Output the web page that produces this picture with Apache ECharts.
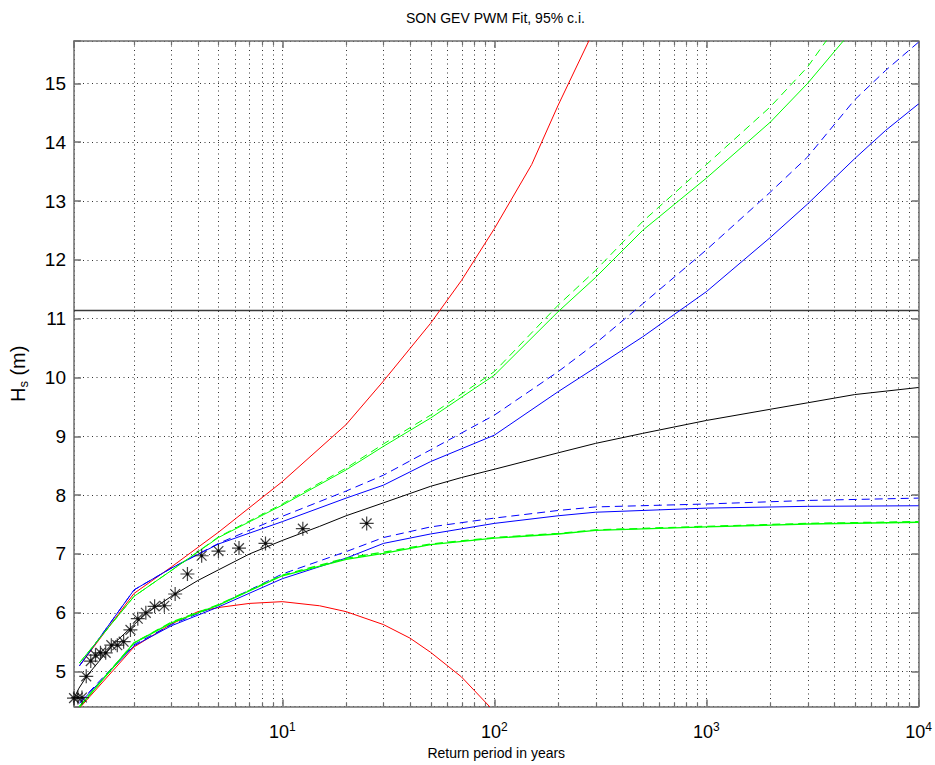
<!DOCTYPE html>
<html><head><meta charset="utf-8">
<script src="https://cdn.jsdelivr.net/npm/echarts@6/dist/echarts.min.js"></script>
<style>html,body{margin:0;padding:0;background:#fff}#c{width:935px;height:765px}</style>
</head><body><div id="c"></div>
<script>
// ---- data ----
const obsT = [1.042, 1.087, 1.136, 1.19, 1.25, 1.316, 1.389, 1.47, 1.5625, 1.667, 1.786, 1.923, 2.083, 2.273, 2.5, 2.778, 3.125, 3.571, 4.167, 5, 6.25, 8.333, 12.5, 25];
const obsHs = [4.55, 4.56, 4.56, 4.92, 5.18, 5.28, 5.32, 5.32, 5.45, 5.45, 5.51, 5.71, 5.90, 6.00, 6.11, 6.12, 6.32, 6.66, 6.97, 7.05, 7.10, 7.18, 7.43, 7.52];

const fitT  = [1.042, 1.1, 1.2, 1.4, 1.6, 2, 2.3, 3, 4, 5, 7, 10, 15, 20, 30, 50, 70, 100, 200, 300, 500, 1000, 2000, 3000, 5000, 10000];
const fitHs = [4.55, 4.72, 4.93, 5.22, 5.47, 5.80, 6.00, 6.28, 6.55, 6.73, 7.00, 7.23, 7.47, 7.65, 7.87, 8.15, 8.30, 8.44, 8.72, 8.88, 9.05, 9.27, 9.46, 9.57, 9.71, 9.83];

const redUpT  = [1.106, 2, 3, 5, 10, 20, 30, 50, 70, 100, 150, 200, 300];
const redUpHs = [5.10, 6.33, 6.78, 7.37, 8.23, 9.20, 9.94, 10.92, 11.65, 12.53, 13.62, 14.63, 15.96];
const redLoT  = [1.106, 2, 3, 4, 5, 7, 10, 15, 20, 30, 40, 50, 70, 100];
const redLoHs = [4.38, 5.42, 5.81, 6.02, 6.09, 6.16, 6.19, 6.12, 6.02, 5.80, 5.57, 5.33, 4.91, 4.32];

const upT = [1.106, 2, 3, 5, 10, 20, 30, 50, 100, 200, 300, 500, 1000, 2000, 3000, 5000, 7000, 10000];
const greenUpHs     = [5.15, 6.28, 6.72, 7.28, 7.83, 8.43, 8.83, 9.31, 10.04, 11.12, 11.70, 12.50, 13.39, 14.34, 15.00, 15.95];
const greenUpDashHs = [5.15, 6.28, 6.72, 7.29, 7.85, 8.46, 8.87, 9.36, 10.10, 11.23, 11.82, 12.65, 13.62, 14.60, 15.28, 16.40];
const blueUpHs      = [5.10, 6.39, 6.76, 7.17, 7.55, 7.95, 8.17, 8.57, 9.02, 9.76, 10.17, 10.69, 11.46, 12.38, 12.95, 13.72, 14.20, 14.65];
const blueUpDashHs  = [5.10, 6.39, 6.76, 7.18, 7.64, 8.07, 8.34, 8.77, 9.36, 10.10, 10.58, 11.25, 12.17, 13.15, 13.75, 14.72, 15.22, 15.70];

const loT = [1.106, 2, 3, 5, 10, 20, 30, 50, 100, 200, 300, 1000, 3000, 10000];
const blueLoHs      = [4.46, 5.44, 5.78, 6.10, 6.58, 6.93, 7.18, 7.34, 7.52, 7.65, 7.71, 7.78, 7.81, 7.82];
const blueLoDashHs  = [4.48, 5.46, 5.80, 6.13, 6.66, 7.04, 7.28, 7.46, 7.61, 7.74, 7.80, 7.85, 7.91, 7.95];
const greenLoHs     = [4.40, 5.49, 5.83, 6.13, 6.63, 6.91, 7.01, 7.16, 7.27, 7.34, 7.40, 7.46, 7.51, 7.54];
const greenLoDashHs = [4.41, 5.49, 5.84, 6.14, 6.64, 6.93, 7.03, 7.17, 7.28, 7.35, 7.41, 7.47, 7.52, 7.55];

const thresholdHs = [11.14];

const minorTicksT = [2,3,4,5,6,7,8,9, 20,30,40,50,60,70,80,90, 200,300,400,500,600,700,800,900, 2000,3000,4000,5000,6000,7000,8000,9000];

const xMin = 1.042, xMax = 10000, yMin = 4.406, yMax = 15.72;

// ---- helpers ----
const pairs = (xs, ys) => ys.map((y, i) => [xs[i], y]);
const gridDash = [1, 3.5];
const FONT = 'Liberation Sans, Arial, sans-serif';
const AXIS_COLOR = '#6e6e6e';

function lineSeries(name, xs, ys, color, dashed, width) {
  return {
    name, type: 'line', data: pairs(xs, ys), showSymbol: false, symbol: 'none',
    lineStyle: { color, width: width || 1, type: dashed ? [8, 5] : 'solid' },
    clip: true, silent: true, z: 5
  };
}

const chart = echarts.init(document.getElementById('c'), null, { renderer: 'svg' });

const starPath = 'path://M0,-10L0,10M-10,0L10,0M-7,-7L7,7M-7,7L7,-7';

const option = {
  animation: false,
  backgroundColor: '#fff',
  textStyle: { fontFamily: FONT, color: '#000' },
  grid: { left: 74, right: 16.5, top: 41, bottom: 58, containLabel: false },
  graphic: [{
    type: 'text', left: 496 - 90, top: 11,
    style: { text: 'SON GEV PWM Fit, 95% c.i.', fontSize: 14, fontFamily: FONT, fill: '#000' }
  }],
  xAxis: [{
    type: 'log', logBase: 10, min: xMin, max: xMax, position: 'bottom',
    name: 'Return period in years', nameLocation: 'middle', nameGap: 31,
    nameTextStyle: { fontSize: 14, fontFamily: FONT, color: '#000' },
    axisLine: { show: true, lineStyle: { color: AXIS_COLOR, width: 1.5 } },
    axisTick: { show: true, inside: true, length: 7, lineStyle: { color: AXIS_COLOR, width: 1.5 } },
    splitLine: { show: true, lineStyle: { color: '#333', width: 1, type: gridDash } },
    axisLabel: {
      margin: 14, color: '#000',
      formatter: v => {
        const l = Math.log10(v), e = Math.round(l);
        if (Math.abs(l - e) > 1e-6 || e < 1) return '';
        return '{b|10}{s|' + e + '}';
      },
      rich: {
        b: { fontSize: 18, fontFamily: FONT, color: '#000' },
        s: { fontSize: 12, fontFamily: FONT, color: '#000', verticalAlign: 'bottom', padding: [0, 0, 11, 0] }
      }
    }
  }, {
    type: 'log', logBase: 10, min: xMin, max: xMax, position: 'top',
    axisLine: { show: true, lineStyle: { color: AXIS_COLOR, width: 1.5 } },
    axisTick: { show: true, inside: true, length: 7, lineStyle: { color: AXIS_COLOR, width: 1.5 } },
    axisLabel: { show: false }, splitLine: { show: false }
  }],
  yAxis: [{
    type: 'value', min: yMin, max: yMax, splitNumber: 11, position: 'left',
    name: '{h|H}{sub|s}{h| (m)}', nameLocation: 'middle', nameGap: 44, nameRotate: 90,
    nameTextStyle: {
      padding: [0, 0, 0, 0],
      rich: {
        h: { fontSize: 20, fontFamily: FONT, color: '#000' },
        sub: { fontSize: 13, fontFamily: FONT, color: '#000', verticalAlign: 'top', padding: [11, 0, 0, 0] }
      }
    },
    axisLine: { show: true, lineStyle: { color: AXIS_COLOR, width: 1.5 } },
    axisTick: { show: true, inside: true, length: 7, lineStyle: { color: AXIS_COLOR, width: 1.5 } },
    splitLine: { show: true, lineStyle: { color: '#333', width: 1, type: gridDash } },
    axisLabel: {
      margin: 8, fontSize: 19, fontFamily: FONT, color: '#000',
      formatter: v => (Math.abs(v - Math.round(v)) < 1e-6 ? String(Math.round(v)) : '')
    }
  }, {
    type: 'value', min: yMin, max: yMax, splitNumber: 11, position: 'right',
    axisLine: { show: true, lineStyle: { color: AXIS_COLOR, width: 1.5 } },
    axisTick: { show: true, inside: true, length: 7, lineStyle: { color: AXIS_COLOR, width: 1.5 } },
    axisLabel: { show: false }, splitLine: { show: false }
  }],
  series: [
    {
      name: 'minorGrid', type: 'custom', silent: true, z: 1,
      data: minorTicksT.map(t => [t, yMin]),
      encode: { x: 0, y: 1 },
      renderItem: (params, api) => {
        const p = api.coord([api.value(0), api.value(1)]);
        const cs = params.coordSys;
        const x = Math.round(p[0]) + 0.5;
        const top = cs.y, bot = cs.y + cs.height;
        return {
          type: 'group', children: [
            { type: 'line', shape: { x1: x, y1: top, x2: x, y2: bot }, style: { stroke: '#333', lineWidth: 1, lineDash: gridDash } },
            { type: 'line', shape: { x1: x, y1: bot, x2: x, y2: bot - 4 }, style: { stroke: AXIS_COLOR, lineWidth: 1.2 } },
            { type: 'line', shape: { x1: x, y1: top, x2: x, y2: top + 4 }, style: { stroke: AXIS_COLOR, lineWidth: 1.2 } }
          ]
        };
      }
    },
    {
      name: 'threshold', type: 'line', silent: true, z: 4, showSymbol: false, symbol: 'none',
      data: [[xMin, thresholdHs[0]], [xMax, thresholdHs[0]]],
      lineStyle: { color: '#3a3a3a', width: 1.6 }
    },
    lineSeries('redUp', redUpT, redUpHs, '#ff0000', false),
    lineSeries('redLo', redLoT, redLoHs, '#ff0000', false),
    lineSeries('blueUp', upT, blueUpHs, '#0000ff', false),
    lineSeries('blueUpDash', upT, blueUpDashHs, '#0000ff', true),
    lineSeries('blueLo', loT, blueLoHs, '#0000ff', false),
    lineSeries('blueLoDash', loT, blueLoDashHs, '#0000ff', true),
    lineSeries('greenUp', upT, greenUpHs, '#00ff00', false),
    lineSeries('greenUpDash', upT, greenUpDashHs, '#00ff00', true),
    lineSeries('greenLo', loT, greenLoHs, '#00ff00', false, 1.3),
    lineSeries('greenLoDash', loT, greenLoDashHs, '#00ff00', true, 1.3),
    lineSeries('fit', fitT, fitHs, '#000000', false),
    {
      name: 'observed', type: 'scatter', data: pairs(obsT, obsHs), z: 6, silent: true,
      symbol: starPath, symbolSize: 14,
      itemStyle: { color: 'none', borderColor: '#111', borderWidth: 1.2 }
    },
    {
      name: 'observedDot', type: 'scatter', data: pairs(obsT, obsHs), z: 7, silent: true,
      symbol: 'circle', symbolSize: 3, itemStyle: { color: '#000' }
    }
  ]
};
chart.setOption(option);
</script>
</body></html>
